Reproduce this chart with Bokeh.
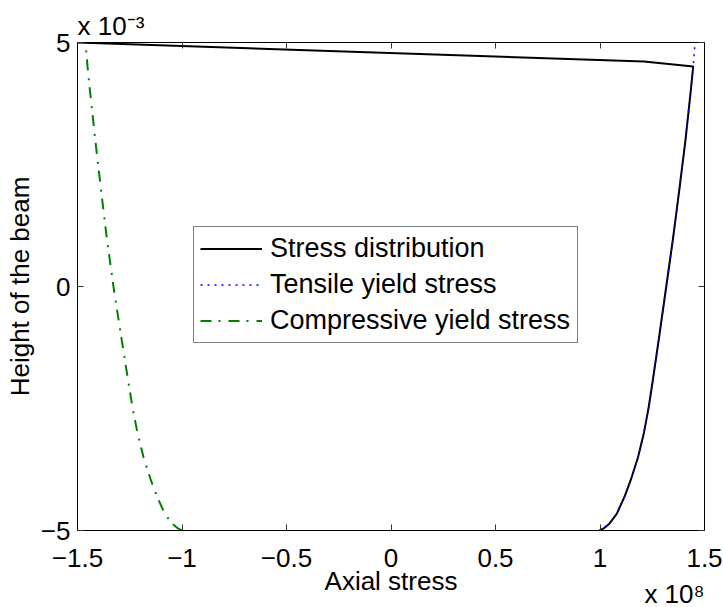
from bokeh.plotting import figure
from bokeh.models import Range1d, FixedTicker, LinearAxis, Title, CustomJSTickFormatter
from bokeh.embed import file_html
from bokeh.resources import INLINE

# Height of the beam (units of 1e-3, see axis exponent)
height = [-5.0, -4.95, -4.86, -4.66, -4.3, -3.98, -3.5, -3.0, -2.5, -2.0, -1.0, 0.0, 1.0, 2.0, 3.0, 4.0, 4.51, 5.0]
# Tensile yield stress (units of 1e8)
tensile = [0.998, 1.020, 1.045, 1.080, 1.118, 1.146, 1.182, 1.210, 1.232, 1.250, 1.284, 1.317, 1.350, 1.380, 1.409, 1.434, 1.446, 1.455]
# Compressive yield stress (units of 1e8)
compressive = [-1.0, -1.022, -1.047, -1.082, -1.120, -1.148, -1.184, -1.213, -1.236, -1.255, -1.292, -1.328, -1.360, -1.388, -1.415, -1.440, -1.452, -1.462]

# Stress distribution (units of 1e8) along the height
stress_height = [-5.0, -4.95, -4.86, -4.66, -4.3, -3.98, -3.5, -3.0, -2.5, -2.0, -1.0, 0.0, 1.0, 2.0, 3.0, 4.0, 4.51, 4.61, 5.0]
stress_value = [0.998, 1.020, 1.045, 1.080, 1.118, 1.146, 1.182, 1.210, 1.232, 1.250, 1.284, 1.317, 1.350, 1.380, 1.409, 1.434, 1.446, 1.21, -1.50]

x_ticks = [-1.5, -1, -0.5, 0, 0.5, 1, 1.5]
y_ticks = [-5, 0, 5]

FONT = "Liberation Sans"
FS = "26px"

p = figure(width=723, height=607,
           x_range=Range1d(-1.5, 1.5), y_range=Range1d(-5, 5),
           output_backend="svg", toolbar_location=None,
           title="x 10\u207b\u00b3", title_location="above",
           min_border_left=77, min_border_right=19,
           min_border_top=42, min_border_bottom=77)

p.grid.visible = False
p.outline_line_color = "black"
p.outline_line_width = 1
p.background_fill_color = "white"
p.border_fill_color = "white"

p.title.align = "left"
p.title.text_font = FONT
p.title.text_font_size = FS
p.title.text_font_style = "normal"
p.title.text_color = "black"
p.title.offset = 0
p.title.standoff = 3

fmt = CustomJSTickFormatter(code="""
const s = Math.abs(tick).toString();
return tick < 0 ? "\\u2212" + s : s;
""")

def style_axis(ax, ticks, show_labels, standoff):
    ax.ticker = FixedTicker(ticks=ticks)
    ax.formatter = fmt
    ax.major_tick_in = 6
    ax.major_tick_out = 0
    ax.minor_tick_line_color = None
    ax.axis_line_color = "black"
    ax.major_tick_line_color = "#333333"
    ax.major_label_text_font = FONT
    if show_labels:
        ax.major_label_text_color = "black"
        ax.major_label_text_font_size = FS
        ax.major_label_standoff = standoff
    else:
        ax.major_label_text_color = None
        ax.major_label_text_font_size = "0px"
        ax.major_label_standoff = 0

style_axis(p.xaxis[0], x_ticks, True, 18)
style_axis(p.yaxis[0], y_ticks, True, 7)

yax = p.yaxis[0]
yax.axis_label = "Height of the beam"
yax.axis_label_text_font = FONT
yax.axis_label_text_font_size = FS
yax.axis_label_text_font_style = "normal"
yax.axis_label_text_color = "black"
yax.axis_label_standoff = 3

top_ax = LinearAxis()
style_axis(top_ax, x_ticks, False, 0)
p.add_layout(top_ax, "above")
right_ax = LinearAxis()
style_axis(right_ax, y_ticks, False, 0)
p.add_layout(right_ax, "right")

# x axis title and exponent, stacked below the axis
x_title = Title(text="Axial stress", align="center", vertical_align="top",
                text_font=FONT, text_font_size=FS, text_font_style="normal",
                text_color="black", offset=0, standoff=-8)
p.add_layout(x_title, "below")
exp_x = Title(text="x 10\u2078", align="right", vertical_align="top",
              text_font=FONT, text_font_size=FS, text_font_style="normal",
              text_color="black", offset=0, standoff=-30)
p.add_layout(exp_x, "below")

p.line(stress_value, stress_height, line_color="black", line_width=2,
       legend_label="Stress distribution")
p.line(tensile, height, line_color="#0000ff", line_width=1.5, line_dash="2 5",
       legend_label="Tensile yield stress")
p.line(compressive, height, line_color="#008000", line_width=2, line_dash="11 7 2 8",
       legend_label="Compressive yield stress")

leg = p.legend[0]
leg.location = (116, 187)
leg.label_text_font = FONT
leg.label_text_font_size = "27px"
leg.label_text_color = "black"
leg.label_height = 31
leg.glyph_height = 31
leg.glyph_width = 62
leg.label_width = 301
leg.label_standoff = 8
leg.padding = 6
leg.spacing = 5
leg.margin = 0
leg.border_line_color = "black"
leg.border_line_width = 1
leg.background_fill_alpha = 1.0

open("out.html", "w").write(file_html(p, INLINE))
